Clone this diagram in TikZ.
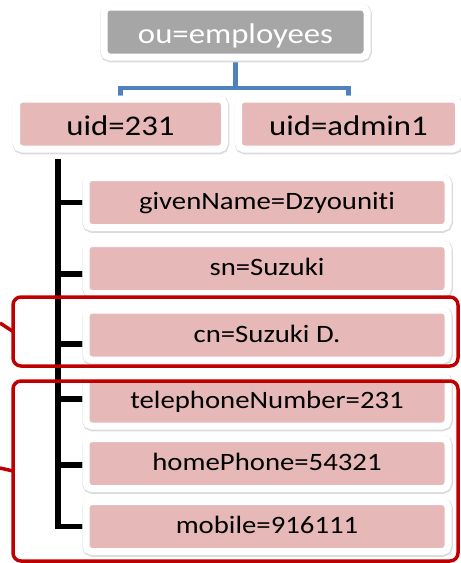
\documentclass[tikz,border=0pt]{standalone}
\usepackage{fontspec}
\setmainfont{Carlito}[FakeStretch=1.15, Ligatures=NoCommon]
\usetikzlibrary{calc,backgrounds}
\usepackage{xcolor}
\definecolor{entrypink}{HTML}{E6B9B8}
\definecolor{entrygray}{HTML}{A6A6A6}
\definecolor{linkblue}{HTML}{4F81BD}
\definecolor{markred}{HTML}{C00000}

\begin{document}
\begin{tikzpicture}[x=1pt,y=-1pt,
  entry/.style={fill=entrypink, draw=white, line width=7pt, rounded corners=5.5pt,
    preaction={draw=black!14, line width=8.5pt, transform canvas={shift={(0.5pt,-1pt)}}},
    minimum width=362pt, minimum height=50pt, inner sep=0pt, outer sep=0pt,
    text=black, text height=18pt, text depth=4pt,
    font=\fontsize{25}{30}\selectfont},
  topentry/.style={entry, text height=22.8pt, text depth=0pt,
    font=\fontsize{28.5}{34}\selectfont},
  link/.style={linkblue, line width=4.5pt},
  tree/.style={black, line width=5.5pt},
  markbox/.style={draw=markred, line width=3.5pt, rounded corners=8pt,
    minimum width=445pt, inner sep=0pt, outer sep=0pt},
  markline/.style={markred, line width=3.5pt}]

\useasboundingbox (0,0) rectangle (461,563);

\node[topentry, fill=entrygray, text=white, minimum width=263pt] (ou) at (235.5,32) {ou=employees};
\node[topentry, minimum width=208pt] (u231) at (120.5,124) {uid=231};
\node[topentry, minimum width=220pt] (uadmin) at (348.5,124) {uid=admin1};

\node[entry] (gn) at (267,202.5) {givenName=Dzyouniti};
\node[entry] (sn) at (267,268.5) {sn=Suzuki};
\node[entry] (cn) at (267,335) {cn=Suzuki D.};
\node[entry] (tel) at (267,401) {telephoneNumber=231};
\node[entry] (home) at (267,463.5) {homePhone=54321};
\node[entry] (mob) at (267,526.5) {mobile=916111};

\begin{scope}[on background layer]
\coordinate (bus) at (0,88);
\draw[link] (ou.south) -- (ou.south |- bus);
\draw[link] (u231.north) -- (u231.north |- bus) -- (uadmin.north |- bus) -- (uadmin.north);

\coordinate (trunk) at (58,159);
\draw[tree] (trunk) |- (mob.west);
\foreach \n/\dy in {gn/0,sn/5.5,cn/9,tel/-2,home/1.5}{
  \coordinate (\n-tip) at ($(\n.west)+(0,\dy)$);
  \draw[tree] (trunk |- \n-tip) -- (\n-tip);
}
\end{scope}

\node[markbox, minimum height=69pt] (selcn) at (235.5,331.5) {};
\node[markbox, minimum height=180pt] (selphone) at (235.5,471) {};
\coordinate (callcn) at (0,323);
\coordinate (callphone) at (0,468);
\draw[markline] (callcn) -- (selcn.west);
\draw[markline] (callphone) -- (selphone.west);

\end{tikzpicture}
\end{document}
